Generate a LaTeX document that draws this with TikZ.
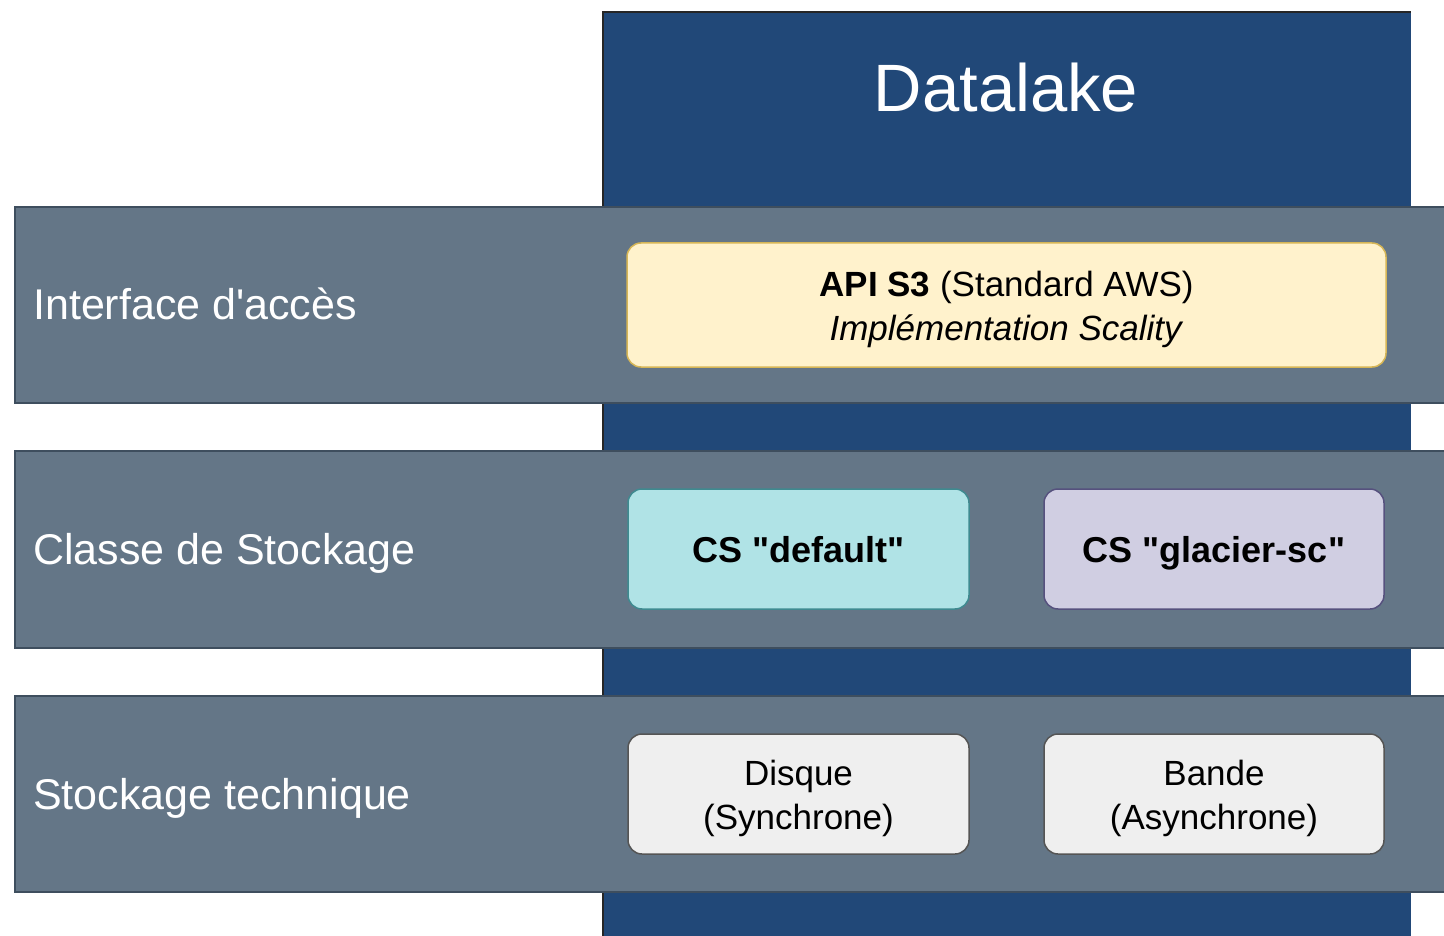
\documentclass[tikz,border=0pt]{standalone}
\usepackage{fontspec}
\setmainfont{Liberation Sans}[Ligatures=TeXOff]
\definecolor{lakeblue}{HTML}{214878}
\definecolor{bandfill}{HTML}{647687}
\definecolor{bandline}{HTML}{3E4E5E}
\definecolor{apifill}{HTML}{FFF2CC}
\definecolor{apiline}{HTML}{D6B656}
\definecolor{csdfill}{HTML}{B0E3E6}
\definecolor{csdline}{HTML}{3F8A90}
\definecolor{csgfill}{HTML}{D0CEE2}
\definecolor{csgline}{HTML}{56517E}
\definecolor{techfill}{HTML}{EFEFEF}
\definecolor{techline}{HTML}{555555}
\tikzset{
  x=1pt, y=-1pt,
  band/.style={fill=bandfill, draw=bandline, line width=1.5pt},
  bandlabel/.style={anchor=west, text=white, font=\fontsize{43}{50}\selectfont, inner sep=0pt, text height=31pt, text depth=0pt},
  itembox/.style={rounded corners=14pt, line width=1.5pt, inner sep=0pt},
  boxtext/.style={align=center, inner sep=0pt, font=\fontsize{35}{44}\selectfont, text=black},
  cstext/.style={inner sep=0pt, font=\fontsize{36}{43}\selectfont\bfseries, text=black, text height=26pt, text depth=0pt},
}
\begin{document}
\begin{tikzpicture}
\useasboundingbox (0,0) rectangle (1444,936);
% Datalake column
\fill[lakeblue] (603,12) rectangle (1411,940);
\draw[black!85, line width=1.5pt] (603,940) -- (603,12) -- (1411,12);
\node (title) at (1006,88) [text=white, font=\fontsize{67}{70}\selectfont] {Datalake};
% bands
\draw[band] (15,207) rectangle (1448,403);
\draw[band] (15,451) rectangle (1448,648);
\draw[band] (15,696) rectangle (1448,892);
\node[bandlabel] (l1) at (33,304) {Interface d'accès};
\node[bandlabel] (l2) at (33,549) {Classe de Stockage};
\node[bandlabel] (l3) at (33,794) {Stockage technique};
% boxes
\node[itembox, fill=apifill, draw=apiline, minimum width=759pt, minimum height=124pt] (api) at (1006.5,305) {};
\node[boxtext] (apitext) at ([yshift=-4pt]api.center) {\textbf{API S3} (Standard AWS)\\\textit{Implémentation Scality}};
\node[itembox, fill=csdfill, draw=csdline, minimum width=341pt, minimum height=120pt] (csd) at (798.5,549) {};
\node[cstext] (csdtext) at (csd.center) {CS "default"};
\node[itembox, fill=csgfill, draw=csgline, minimum width=340pt, minimum height=120pt] (csg) at (1214,549) {};
\node[cstext] (csgtext) at (csg.center) {CS "glacier-sc"};
\node[itembox, fill=techfill, draw=techline, minimum width=341pt, minimum height=120pt] (disk) at (798.5,794) {};
\node[boxtext] (disktext) at ([yshift=-4pt]disk.center) {Disque\\(Synchrone)};
\node[itembox, fill=techfill, draw=techline, minimum width=340pt, minimum height=120pt] (tape) at (1214,794) {};
\node[boxtext] (tapetext) at ([yshift=-4pt]tape.center) {Bande\\(Asynchrone)};
\end{tikzpicture}
\end{document}
